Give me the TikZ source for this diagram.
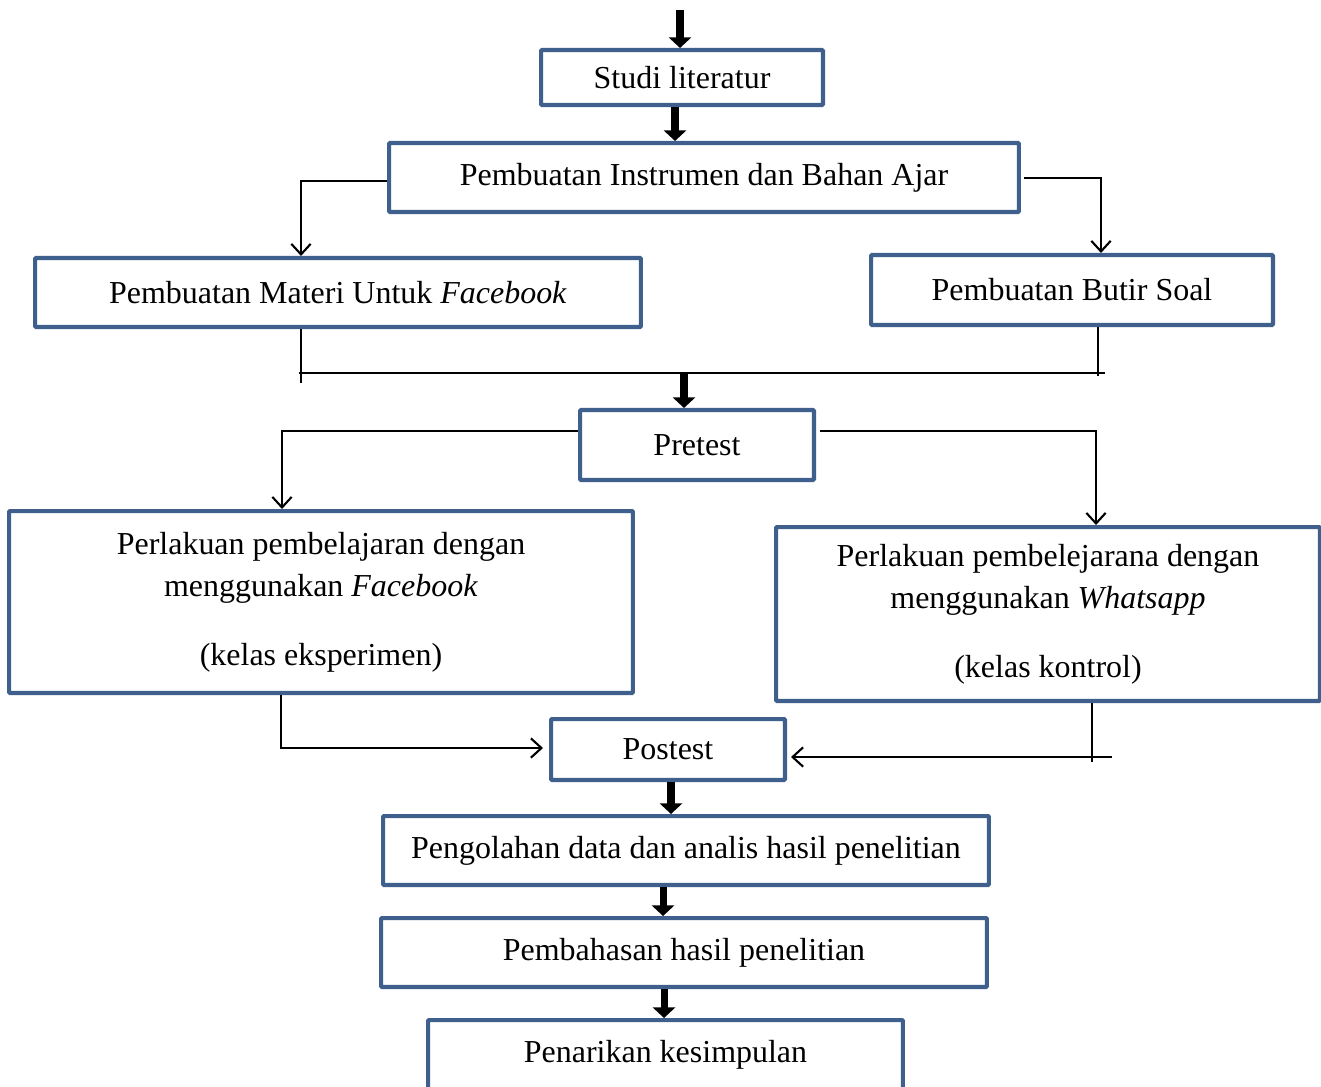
\documentclass[tikz,border=0pt]{standalone}
\usepackage{fontspec}
\setmainfont{Liberation Serif}
\usetikzlibrary{arrows.meta}
\definecolor{boxblue}{RGB}{63,96,141}

\begin{document}
\begin{tikzpicture}
    [
        x=0.02cm, y=-0.02cm,
        flow_box/.style={rectangle, draw=boxblue, fill=white, line width=2.3pt, rounded corners=0.5pt, align=center, inner sep=0pt, font=\fontsize{18.2}{24}\selectfont},
        thick_arrow/.style={-{Triangle[width=12.5pt, length=6pt]}, line width=4pt, color=black},
        thin_arrow/.style={-{Straight Barb[width=11pt, length=6pt]}, line width=1.2pt, color=black},
        thin_line/.style={line width=1.2pt, color=black},
    ]
        \useasboundingbox (0,0) rectangle (1321,1086);
        % boxes
        \node[flow_box, minimum width=5.64cm, minimum height=1.10cm] (studi) at (682,77.5) {Studi literatur} ;
        \node[flow_box, minimum width=12.6cm, minimum height=1.38cm] (instr) at (704,177.5) {Pembuatan Instrumen dan Bahan Ajar} ;
        \node[flow_box, minimum width=12.12cm, minimum height=1.38cm] (materi) at (338,292.5) {Pembuatan Materi Untuk \textit{Facebook}} ;
        \node[flow_box, minimum width=8.04cm, minimum height=1.40cm] (soal) at (1072,290) {Pembuatan Butir Soal} ;
        \node[flow_box, minimum width=4.68cm, minimum height=1.40cm] (pretest) at (697,445) {Pretest} ;
        \node[flow_box, minimum width=12.48cm, minimum height=3.64cm] (eksp) at (321,602) {Perlakuan pembelajaran dengan\\ menggunakan \textit{Facebook}\\[15pt] (kelas eksperimen)} ;
        \node[flow_box, minimum width=10.88cm, minimum height=3.48cm] (kontrol) at (1048,614) {Perlakuan pembelejarana dengan\\ menggunakan \textit{Whatsapp}\\[15pt] (kelas kontrol)} ;
        \node[flow_box, minimum width=4.68cm, minimum height=1.22cm] (postest) at (668,749.5) {Postest} ;
        \node[flow_box, minimum width=12.12cm, minimum height=1.38cm] (olah) at (686,850.5) {Pengolahan data dan analis hasil penelitian} ;
        \node[flow_box, minimum width=12.12cm, minimum height=1.38cm] (bahas) at (684,952.5) {Pembahasan hasil penelitian} ;
        \node[flow_box, minimum width=9.5cm, minimum height=1.40cm] (tarik) at (665.5,1055) {Penarikan kesimpulan} ;
        % helper points
        \coordinate (top) at (680,10) ;
        \coordinate (ml) at (301,181) ;
        \coordinate (sr) at (1101,178) ;
        \coordinate (jl) at (301,373) ;
        \coordinate (jr) at (1098,373) ;
        \coordinate (jm) at (684,373) ;
        \coordinate (el) at (282,431) ;
        \coordinate (kr) at (1096,431) ;
        \coordinate (pl) at (281,748) ;
        \coordinate (pr) at (1092,757) ;
        \coordinate (pe) at (1112,757) ;
        % thick arrows
        \draw[thick_arrow] (top) -- (top |- studi.north) ;
        \draw[thick_arrow] ([xshift=-0.14cm]studi.south) -- ([xshift=-0.14cm]studi.south |- instr.north) ;
        \draw[thick_arrow] (jm) -- (jm |- pretest.north) ;
        \draw[thick_arrow] ([xshift=0.06cm]postest.south) -- ([xshift=0.06cm]postest.south |- olah.north) ;
        \draw[thick_arrow] ([xshift=-0.46cm]olah.south) -- ([xshift=-0.46cm]olah.south |- bahas.north) ;
        \draw[thick_arrow] ([xshift=-0.4cm]bahas.south) -- ([xshift=-0.4cm]bahas.south |- tarik.north) ;
        % thin connectors
        \draw[thin_arrow] (instr.west |- ml) -- (ml) -- (ml |- materi.north) ;
        \draw[thin_arrow] ([xshift=0.06cm]instr.east |- sr) -- (sr) -- (sr |- soal.north) ;
        \draw[thin_line, shorten >=-0.2cm] (jl |- materi.south) -- (jl) ;
        \draw[thin_line, shorten >=-0.06cm] (jr |- soal.south) -- (jr) ;
        \draw[thin_line, shorten <=-0.04cm, shorten >=-0.14cm] (jl) -- (jr) ;
        \draw[thin_arrow] (pretest.west |- el) -- (el) -- (el |- eksp.north) ;
        \draw[thin_arrow] ([xshift=0.08cm]pretest.east |- kr) -- (kr) -- (kr |- kontrol.north) ;
        \draw[thin_arrow, shorten >=0.12cm] (pl |- eksp.south) -- (pl) -- (postest.west |- pl) ;
        \draw[thin_line, shorten >=-0.1cm] (pr |- kontrol.south) -- (pr) ;
        \draw[thin_arrow, shorten >=0.08cm] (pe) -- (postest.east |- pe) ;
    \end{tikzpicture}
\end{document}
